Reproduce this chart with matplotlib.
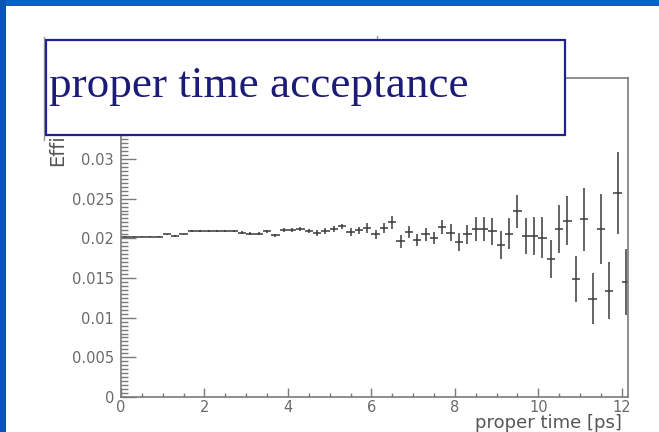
import matplotlib
matplotlib.use('Agg')
import matplotlib.pyplot as plt
from matplotlib.patches import Rectangle
from matplotlib.lines import Line2D
from matplotlib.ticker import FixedLocator, MultipleLocator

# ---------------- data ----------------
proper_time = [0.1, 0.3, 0.5, 0.7, 0.9, 1.1, 1.3, 1.5, 1.7, 1.9,
               2.1, 2.3, 2.5, 2.7, 2.9, 3.1, 3.3, 3.5, 3.7, 3.9,
               4.1, 4.3, 4.5, 4.7, 4.9, 5.1, 5.3, 5.5, 5.7, 5.9,
               6.1, 6.3, 6.5, 6.7, 6.9, 7.1, 7.3, 7.5, 7.7, 7.9,
               8.1, 8.3, 8.5, 8.7, 8.9, 9.1, 9.3, 9.5, 9.7, 9.9,
               10.1, 10.3, 10.5, 10.7, 10.9, 11.1, 11.3, 11.5, 11.7, 11.9,
               12.1]
efficiency = [0.0202, 0.0202, 0.0202, 0.0202, 0.0202, 0.0205, 0.0203, 0.0205, 0.0209, 0.0209,
              0.0209, 0.0209, 0.0209, 0.0209, 0.0207, 0.0206, 0.0206, 0.0209, 0.0204, 0.0210,
              0.0210, 0.0212, 0.0209, 0.0207, 0.0209, 0.0212, 0.0215, 0.0208, 0.0210, 0.0213,
              0.0205, 0.0213, 0.0220, 0.0196, 0.0208, 0.0198, 0.0205, 0.0200, 0.0214, 0.0207,
              0.0195, 0.0205, 0.0212, 0.0212, 0.0209, 0.0191, 0.0206, 0.0234, 0.0203, 0.0203,
              0.0201, 0.0174, 0.0212, 0.0222, 0.0149, 0.0224, 0.0124, 0.0212, 0.0134, 0.0257,
              0.0145]
eff_error = [0.00008, 0.00008, 0.00008, 0.00008, 0.00008, 0.0001, 0.0001, 0.0001, 0.00012, 0.00012,
             0.00012, 0.00012, 0.00012, 0.00012, 0.00018, 0.00018, 0.00018, 0.00018, 0.00018, 0.00025,
             0.00025, 0.00025, 0.00025, 0.00035, 0.00035, 0.00035, 0.00035, 0.00045, 0.00045, 0.0006,
             0.0006, 0.0006, 0.0008, 0.00078, 0.0007, 0.00078, 0.00085, 0.00075, 0.0009, 0.00105,
             0.00113, 0.0012, 0.0015, 0.0015, 0.0017, 0.00176, 0.002, 0.0021, 0.0023, 0.0024,
             0.0026, 0.0024, 0.003, 0.0031, 0.0029, 0.004, 0.0032, 0.0044, 0.0036, 0.0052,
             0.0042]
bin_half_width = 0.1

x_ticks = [0, 2, 4, 6, 8, 10, 12]
x_tick_labels = ['0', '2', '4', '6', '8', '10', '12']
y_ticks = [0, 0.005, 0.01, 0.015, 0.02, 0.025, 0.03, 0.035]
y_tick_labels = ['0', '0.005', '0.01', '0.015', '0.02', '0.025', '0.03', '0.035']

title_text = 'proper time acceptance'
x_title = 'proper time [ps]'
y_title = 'Efficiency'

# ---------------- figure ----------------
W, H = 659, 432
fig = plt.figure(figsize=(W / 100, H / 100), dpi=100, facecolor='white')


def fx(px):
    return px / W


def fy(py):
    return 1 - py / H


# slide background strips (blue)
fig.add_artist(Rectangle((0, fy(6)), 1, 6 / H, transform=fig.transFigure,
                         facecolor='#0862C2', edgecolor='none', zorder=-5))
fig.add_artist(Rectangle((0, 0), fx(6), 1, transform=fig.transFigure,
                         facecolor='#0956B2', edgecolor='none', zorder=-5))

ax_l, ax_r, ax_t, ax_b = 121, 628, 78, 397
ax = fig.add_axes([fx(ax_l), fy(ax_b), fx(ax_r) - fx(ax_l), fy(ax_t) - fy(ax_b)])
ax.set_facecolor('white')

ax.errorbar(proper_time, efficiency, xerr=bin_half_width, yerr=eff_error,
            fmt='none', ecolor='#3a3a3a', elinewidth=1.1, capsize=0)

ax.set_xlim(0, 12.15)
ax.set_ylim(0, 0.0402)

axis_col = '#7a7a7a'
for s in ax.spines.values():
    s.set_color(axis_col)
    s.set_linewidth(1.2)

ax.xaxis.set_major_locator(FixedLocator(x_ticks))
ax.set_xticklabels(x_tick_labels)
ax.xaxis.set_minor_locator(MultipleLocator(0.5))
ax.yaxis.set_major_locator(FixedLocator(y_ticks))
ax.set_yticklabels(y_tick_labels)
ax.yaxis.set_minor_locator(MultipleLocator(0.0005))

ax.tick_params(axis='x', which='major', direction='in', length=6.5, width=1.0,
               color=axis_col, labelcolor='#6a6a6a', labelsize=10.5, pad=2.0)
ax.tick_params(axis='x', which='minor', direction='in', length=3.2, width=1.0, color=axis_col)
ax.tick_params(axis='y', which='major', direction='in', length=10.5, width=1.0,
               color=axis_col, labelcolor='#6a6a6a', labelsize=10.5, pad=5)
ax.tick_params(axis='y', which='minor', direction='in', length=5, width=1.0, color=axis_col)

ax.set_xlabel(x_title, fontsize=13, color='#555555', ha='right', va='baseline')
ax.xaxis.set_label_coords((622 - ax_l) / (ax_r - ax_l), -(427.5 - ax_b) / (ax_b - ax_t))
ax.set_ylabel(y_title, fontsize=14, color='#555555', ha='right', va='baseline')
ax.yaxis.set_label_coords((63 - ax_l) / (ax_r - ax_l), (ax_b - 72) / (ax_b - ax_t))

# faint lines of an underlying pad element
fig.add_artist(Line2D([fx(44.5), fx(44.5)], [fy(37), fy(140)], transform=fig.transFigure,
                      color='#9a9a9a', lw=1.0, zorder=9))
fig.add_artist(Line2D([fx(377), fx(377)], [fy(36), fy(41)], transform=fig.transFigure,
                      color='#9a9a9a', lw=1.0, zorder=9))

# title box
fig.add_artist(Rectangle((fx(45.5), fy(135)), fx(565) - fx(45.5), fy(40) - fy(135),
                         transform=fig.transFigure, facecolor='white',
                         edgecolor='#22228c', lw=1.6, zorder=10))
fig.text(fx(49), fy(97), title_text, family='Liberation Serif', fontsize=32.5,
         color='#1c1c78', va='baseline', ha='left', zorder=11)

fig.savefig('out.png', dpi=100, facecolor='white')
